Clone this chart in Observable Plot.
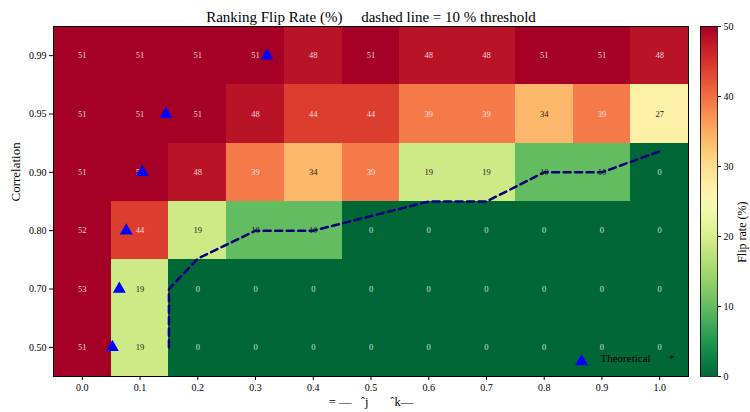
<!DOCTYPE html>
<html><head><meta charset="utf-8">
<script src="https://cdn.jsdelivr.net/npm/d3@7"></script>
<script src="https://cdn.jsdelivr.net/npm/@observablehq/plot@0.6"></script>
<style>
body{margin:0;background:#fff;}
#wrap{position:relative;width:750px;height:412px;overflow:hidden;background:#fff;}
#wrap svg{position:absolute;top:0;}
</style></head><body><div id="wrap"></div>
<script>
// ---- data ----
const xValues = [0.0, 0.1, 0.2, 0.3, 0.4, 0.5, 0.6, 0.7, 0.8, 0.9, 1.0];
const corrLabels = ["0.50", "0.70", "0.80", "0.90", "0.95", "0.99"]; // bottom -> top
const flip050 = [51, 19, 0, 0, 0, 0, 0, 0, 0, 0, 0];
const flip070 = [53, 19, 0, 0, 0, 0, 0, 0, 0, 0, 0];
const flip080 = [52, 44, 19, 10, 10, 0, 0, 0, 0, 0, 0];
const flip090 = [51, 51, 48, 39, 34, 39, 19, 19, 10, 10, 0];
const flip095 = [51, 51, 51, 48, 44, 44, 39, 39, 34, 39, 27];
const flip099 = [51, 51, 51, 51, 48, 51, 48, 48, 51, 51, 48];
const theoreticalX = [0.052, 0.064, 0.076, 0.104, 0.145, 0.32]; // one per correlation row
const thresholdX = [0.15, 0.15, 0.2, 0.3, 0.4, 0.6, 0.7, 0.8, 0.9, 1.0];
const thresholdRow = [0, 1, 1.52, 2, 2, 2.5, 2.5, 3, 3, 3.36];
const colorTicks = [0, 10, 20, 30, 40, 50];
const titleText = "Ranking Flip Rate (%)\u00a0\u00a0\u00a0\u00a0\u00a0dashed line = 10 % threshold";
const xLabelText = "= \u2014\u00a0\u00a0\u00a0\u02c6j\u00a0\u00a0\u00a0\u00a0\u00a0\u00a0\u00a0\u02c6k\u2014";
const yLabelText = "Correlation";
const cbLabelText = "Flip rate (%)";
const legendText = "Theoretical";

const rows = [flip050, flip070, flip080, flip090, flip095, flip099];
const cells = [];
rows.forEach((r, ri) => r.forEach((v, xi) => cells.push({x: xValues[xi], row: ri, v})));
const theo = theoreticalX.map((x, i) => ({x, row: i}));
const thr = thresholdX.map((x, i) => ({x, row: thresholdRow[i]}));
const isLight = v => v >= 35 || v < 5;

const FONT = "'Liberation Serif', 'DejaVu Serif', serif";
const colorOpt = {type: "linear", scheme: "RdYlGn", reverse: true, domain: [0, 50]};

const main = Plot.plot({
  width: 695, height: 412,
  marginLeft: 53, marginRight: 7, marginTop: 26, marginBottom: 36,
  style: {fontFamily: FONT, fontSize: "10px", color: "#000", background: "transparent"},
  x: {domain: [-0.05, 1.05]},
  y: {domain: [-0.5, 5.5]},
  color: colorOpt,
  marks: [
    Plot.rect(cells, {x1: d => d.x - 0.05, x2: d => d.x + 0.05, y1: d => d.row - 0.5, y2: d => d.row + 0.5, fill: "v", shapeRendering: "crispEdges"}),
    Plot.text(cells.filter(d => isLight(d.v)), {x: "x", y: "row", text: d => String(d.v), fill: "white", fillOpacity: 0.82, fontSize: 8.5}),
    Plot.line(thr, {x: "x", y: "row", stroke: "#00007f", strokeWidth: 2.5, strokeDasharray: "7,4.5", curve: "linear"}),
    Plot.text(cells.filter(d => !isLight(d.v)), {x: "x", y: "row", text: d => String(d.v), fill: "#1a1a1a", fontSize: 8.5}),
    Plot.dot(theo, {x: "x", y: "row", symbol: "triangle", r: 4.8, fill: "blue", stroke: "none"}),
    Plot.frame({stroke: "#000", strokeWidth: 1}),
    Plot.axisX({ticks: xValues, tickFormat: d3.format(".1f"), tickSize: 4, tickPadding: 3, label: null}),
    Plot.axisY({ticks: d3.range(corrLabels.length), tickFormat: i => corrLabels[i], tickSize: 4, tickPadding: 3, label: null}),
    Plot.text([titleText], {frameAnchor: "top", dy: -15, fontSize: 15, fill: "#000"}),
    Plot.text([xLabelText], {frameAnchor: "bottom", dy: 29, fontSize: 12.5, fill: "#000"}),
    Plot.text([yLabelText], {frameAnchor: "left", dx: -38, rotate: -90, fontSize: 13, fill: "#000"}),
    Plot.dot([0], {frameAnchor: "bottom-right", dx: -107, dy: -15, symbol: "triangle", r: 4.8, fill: "blue"}),
    Plot.text([legendText], {frameAnchor: "bottom-right", dx: -88, dy: -15, textAnchor: "start", fontSize: 11, fill: "#000"}),
    Plot.text(["*"], {frameAnchor: "bottom-right", dx: -14, dy: -15, fontSize: 11, fill: "#000"})
  ]
});
main.style.left = "0px";
document.getElementById("wrap").appendChild(main);

const ramp = d3.range(0, 50, 0.25);
const cb = Plot.plot({
  width: 55, height: 412,
  marginLeft: 5, marginRight: 33, marginTop: 26, marginBottom: 36,
  style: {fontFamily: FONT, fontSize: "10px", color: "#000", background: "transparent"},
  x: {domain: [0, 1], axis: null},
  y: {domain: [0, 50]},
  color: colorOpt,
  marks: [
    Plot.rect(ramp, {x1: () => 0, x2: () => 1, y1: d => d, y2: d => Math.min(50, d + 0.25), fill: d => d + 0.125, shapeRendering: "crispEdges"}),
    Plot.frame({stroke: "#000", strokeWidth: 0.8}),
    Plot.axisY({anchor: "right", ticks: colorTicks, tickSize: 3, tickPadding: 3, label: null}),
    Plot.text([cbLabelText], {frameAnchor: "right", dx: 25, rotate: -90, fontSize: 12, fill: "#000"})
  ]
});
cb.style.left = "695px";
document.getElementById("wrap").appendChild(cb);
</script></body></html>
